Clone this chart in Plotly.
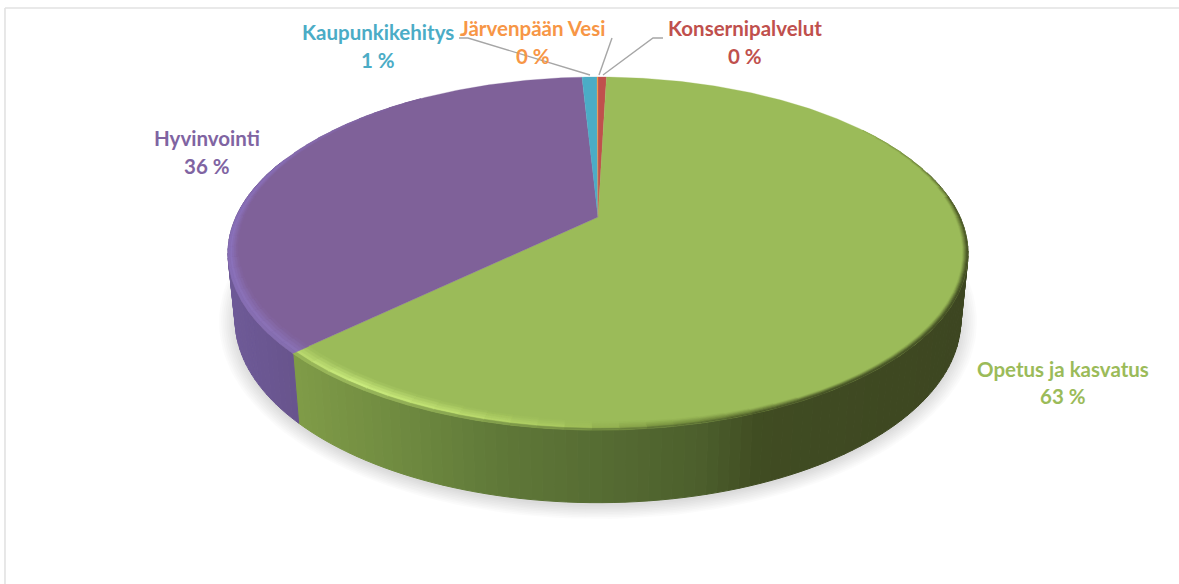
import numpy as np
import plotly.graph_objects as go

# ---- data (clockwise from 12 o'clock) ----
categories = ["Konsernipalvelut", "Opetus ja kasvatus", "Hyvinvointi", "Kaupunkikehitys", "Järvenpään Vesi"]
values = [0.45, 62.4, 36.3, 0.8, 0.05]
percent_labels = ["0 %", "63 %", "36 %", "1 %", "0 %"]

# ---- styles ----
face_colors = ["#c0504d", "#9bbb59", "#7f6199", "#4bacc6", "#f79646"]
text_colors = ["#c0504d", "#9bbb59", "#8064a2", "#4bacc6", "#f79646"]
label_centres = [(745, 28, 56), (1063, 369, 396), (207, 138, 166), (378, 32, 60), (533, 28, 56)]
FONT = "Lato"
FONT_SIZE = 20.5

# projected disc geometry (pixels)
CX = 598
TOP = dict(cy=217, a=362, b=169, k=0.207)
BOT = dict(cy=282, a=355, b=175, k=0.207)


def project(theta_deg, geo, r=1.0):
    t = np.radians(theta_deg)
    c, s = np.sin(t) * r, -np.cos(t) * r
    d = 1 - geo["k"] * s
    return CX + geo["a"] * c / d, geo["cy"] + geo["b"] * s / d


def hex2rgb(h):
    return np.array([int(h[i:i + 2], 16) for i in (1, 3, 5)], float)


def rgb(v):
    return "rgb(%d,%d,%d)" % tuple(np.clip(np.round(v), 0, 255))


def ramp(x, stops):
    xs = [p[0] for p in stops]
    cols = np.array([hex2rgb(p[1]) for p in stops])
    return np.array([np.interp(x, xs, cols[:, i]) for i in range(3)])


GREEN_WALL = [(296, "#7f9b47"), (400, "#6f8a40"), (500, "#5f7838"), (600, "#566c33"),
              (700, "#4c5f2c"), (760, "#404c22"), (968, "#3d4621")]
PURPLE_WALL = [(228, "#6e5a97"), (300, "#67538c")]
GREEN_RIM = [(55, "#9bbb59"), (80, "#6d8138"), (110, "#4a5728"), (150, "#4a5728"), (172, "#7a9440"),
             (185, "#a9c95f"), (200, "#c0e072"), (215, "#cdee80"), (228, "#b4d36a")]
PURPLE_RIM = [(226, "#8a72b5"), (260, "#8b72bd"), (290, "#8a70b8"), (325, "#7f6199")]
RIM_START = [(55, 0.994), (90, 0.986), (150, 0.986), (175, 0.97), (205, 0.955), (228, 0.955),
             (260, 0.975), (325, 0.992)]

fig = go.Figure()


def poly(xs, ys, color, lw=0.6):
    fig.add_trace(go.Scatter(x=list(xs), y=list(ys), mode="lines", fill="toself", fillcolor=color,
                             line=dict(color=color, width=lw), hoverinfo="skip", showlegend=False))


# ---- soft shadow ----
for g in np.linspace(1, 0, 9):
    th = np.linspace(0, 360, 181)
    sx = CX + (363 + 16 * g) * np.sin(np.radians(th))
    sy = 322 - (184 + 13 * g) * np.cos(np.radians(th))
    fig.add_trace(go.Scatter(x=sx, y=sy, mode="lines", fill="toself", fillcolor="rgba(0,0,0,0.016)",
                             line=dict(width=0), hoverinfo="skip", showlegend=False))

# ---- slice angle ranges ----
edges = np.cumsum([0] + values) / sum(values) * 360
ranges = list(zip(edges[:-1], edges[1:]))


def wall_color(i, theta):
    x = project(theta, TOP)[0]
    if i == 1:
        return ramp(x, GREEN_WALL)
    if i == 2:
        return ramp(x, PURPLE_WALL)
    return hex2rgb(face_colors[i]) * 0.6


# ---- outer walls ----
for i, (a0, a1) in enumerate(ranges):
    lo, hi = max(a0, 74), min(a1, 290)
    if hi <= lo:
        continue
    th = np.linspace(lo, hi, max(2, int((hi - lo) / 1.5) + 1))
    for t0, t1 in zip(th[:-1], th[1:]):
        x0, y0 = project(t0, TOP)
        x1, y1 = project(t1, TOP)
        x2, y2 = project(t1, BOT)
        x3, y3 = project(t0, BOT)
        poly([x0, x1, x2, x3, x0], [y0, y1, y2, y3, y0], rgb(wall_color(i, (t0 + t1) / 2)), 1.0)

# ---- top faces ----
for i, (a0, a1) in enumerate(ranges):
    th = np.linspace(a0, a1, max(2, int((a1 - a0) * 2) + 1))
    px, py = project(th, TOP)
    poly(np.r_[CX, px, CX], np.r_[TOP["cy"], py, TOP["cy"]], face_colors[i], 0.3)

# ---- bevel rim on the two big slices ----
for i, rim_stops in ((1, GREEN_RIM), (2, PURPLE_RIM)):
    a0, a1 = ranges[i]
    lo, hi = max(a0, rim_stops[0][0]), min(a1, rim_stops[-1][0])
    face = hex2rgb(face_colors[i])
    th = np.linspace(lo, hi, int((hi - lo) / 3.5) + 2)
    for t0, t1 in zip(th[:-1], th[1:]):
        tm = (t0 + t1) / 2
        r0 = np.interp(tm, [p[0] for p in RIM_START], [p[1] for p in RIM_START])
        rim = ramp(tm, rim_stops)
        fade = np.clip(min((tm - 50) / 30, (330 - tm) / 40), 0, 1)
        edge = face + (wall_color(i, tm) - face) * fade
        if i == 2:
            edge = rim * 0.75 + edge * 0.25
        steps = np.linspace(0, 1, 6)
        for u0, u1 in zip(steps[:-1], steps[1:]):
            um = (u0 + u1) / 2
            if um < 0.75:
                col = face + (rim - face) * um / 0.75
            else:
                col = rim + (edge - rim) * (um - 0.75) / 0.25
            ra, rb = r0 + (1 - r0) * u0, r0 + (1 - r0) * u1
            x0, y0 = project(t0, TOP, ra)
            x1, y1 = project(t1, TOP, ra)
            x2, y2 = project(t1, TOP, rb)
            x3, y3 = project(t0, TOP, rb)
            poly([x0, x1, x2, x3, x0], [y0, y1, y2, y3, y0], rgb(col), 0.5)

# ---- leader lines ----
leaders = [
    ([459, 468, 590], [38, 38, 75]),
    ([612, 599], [38, 75]),
    ([663, 653, 603], [38, 38, 75]),
]
for lx, ly in leaders:
    fig.add_trace(go.Scatter(x=lx, y=ly, mode="lines", line=dict(color="#a6a6a6", width=1.4),
                             hoverinfo="skip", showlegend=False))

# ---- labels ----
annotations = []
for name, pct, col, (lx, y1, y2) in zip(categories, percent_labels, text_colors, label_centres):
    for txt, yy in ((name, y1), (pct, y2)):
        annotations.append(dict(x=lx, y=yy, xref="x", yref="y", text="<b>%s</b>" % txt, showarrow=False,
                                xanchor="center", yanchor="middle",
                                font=dict(family=FONT, size=FONT_SIZE, color=col)))

fig.update_layout(
    width=1179, height=584, margin=dict(l=0, r=0, t=0, b=0),
    paper_bgcolor="white", plot_bgcolor="white", showlegend=False,
    xaxis=dict(range=[0, 1179], visible=False, fixedrange=True),
    yaxis=dict(range=[584, 0], visible=False, fixedrange=True),
    annotations=annotations,
    shapes=[
        dict(type="line", xref="x", yref="y", x0=5, x1=1179, y0=8, y1=8, line=dict(color="#e2e2e2", width=1.6), layer="below"),
        dict(type="line", xref="x", yref="y", x0=5, x1=5, y0=8, y1=584, line=dict(color="#e2e2e2", width=1.6), layer="below"),
    ],
)

fig.write_html("out.html", post_script="document.body.style.margin='0';",
               config={"displayModeBar": False})
